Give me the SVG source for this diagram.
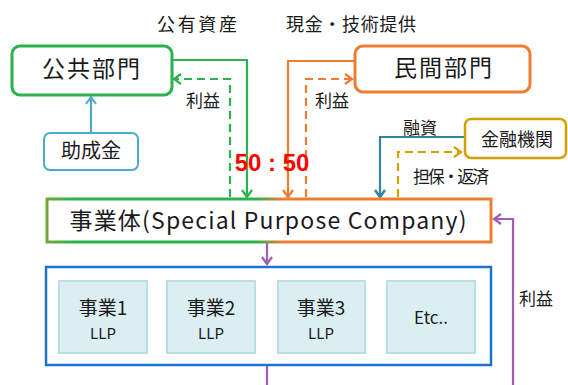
<svg xmlns="http://www.w3.org/2000/svg" width="568" height="385" viewBox="0 0 568 385">
<defs>
<style>
text{font-family:"Noto Sans CJK JP","Noto Sans",sans-serif;fill:#1a1a1a;text-anchor:middle}
.box{fill:#fff}
.ln{fill:none;stroke-width:2.2}
.dash{stroke-dasharray:8 5}
.inner{fill:#DBEEF2;stroke:#B9DEE6;stroke-width:2}
.lbl{font-size:17px}
</style>
<linearGradient id="spcg" x1="46" y1="0" x2="492" y2="0" gradientUnits="userSpaceOnUse">
<stop offset="0" stop-color="#74A838"/>
<stop offset="0.06" stop-color="#2BB14E"/>
<stop offset="0.47" stop-color="#2BB14E"/>
<stop offset="0.53" stop-color="#ED7D31"/>
<stop offset="1" stop-color="#ED7D31"/>
</linearGradient>
<marker id="aG" markerWidth="10" markerHeight="12" refX="8" refY="6" orient="auto" markerUnits="userSpaceOnUse"><path d="M1,1 L8,6 L1,11" fill="none" stroke="#2BB14E" stroke-width="2.2"/></marker>
<marker id="aO" markerWidth="10" markerHeight="12" refX="8" refY="6" orient="auto" markerUnits="userSpaceOnUse"><path d="M1,1 L8,6 L1,11" fill="none" stroke="#ED7D31" stroke-width="2.2"/></marker>
<marker id="aT" markerWidth="10" markerHeight="12" refX="8" refY="6" orient="auto" markerUnits="userSpaceOnUse"><path d="M1,1 L8,6 L1,11" fill="none" stroke="#31859C" stroke-width="2.6"/></marker>
<marker id="aY" markerWidth="10" markerHeight="12" refX="8" refY="6" orient="auto" markerUnits="userSpaceOnUse"><path d="M1,1 L8,6 L1,11" fill="none" stroke="#D4A100" stroke-width="2.2"/></marker>
<marker id="aB" markerWidth="10" markerHeight="12" refX="8" refY="6" orient="auto" markerUnits="userSpaceOnUse"><path d="M1,1 L8,6 L1,11" fill="none" stroke="#4BACC6" stroke-width="2"/></marker>
<marker id="aP" markerWidth="10" markerHeight="12" refX="8" refY="6" orient="auto" markerUnits="userSpaceOnUse"><path d="M1,1 L8,6 L1,11" fill="none" stroke="#A05DB4" stroke-width="2.2"/></marker>
</defs>

<g id="connectors">
<path class="ln" stroke="#2BB14E" d="M172,60 H247 V197" marker-end="url(#aG)"/>
<path class="ln dash" stroke="#2BB14E" d="M230,197 V79 H174" marker-end="url(#aG)"/>
<path class="ln" stroke="#ED7D31" d="M354,61 H288 V197" marker-end="url(#aO)"/>
<path class="ln dash" stroke="#ED7D31" d="M306,197 V79 H352" marker-end="url(#aO)"/>
<path class="ln" stroke="#31859C" d="M464,137 H380 V197" marker-end="url(#aT)"/>
<path class="ln dash" stroke="#D4A100" d="M398,197 V152 H461" marker-end="url(#aY)"/>
<path class="ln" stroke="#4BACC6" d="M91,133 V97" marker-end="url(#aB)"/>
<path class="ln" stroke="#A05DB4" d="M267,243 V264" marker-end="url(#aP)"/>
<path class="ln" stroke="#A05DB4" d="M267,366 V385"/>
<path class="ln" stroke="#A05DB4" d="M513,385 V219 H494" marker-end="url(#aP)"/>
<text class="lbl" x="203" y="107">利益</text>
<text class="lbl" x="332" y="107">利益</text>
<text class="lbl" x="420" y="134" font-size="16">融資</text>
<text class="lbl" x="451" y="183" font-size="16" textLength="76">担保・返済</text>
<text class="lbl" x="536" y="305">利益</text>
</g>

<g id="labels">
<text x="197" y="31" font-size="18" textLength="80">公有資産</text>
<text x="351" y="31" font-size="18" textLength="130">現金・技術提供</text>
<text x="272" y="171" font-size="24" font-weight="bold" style="fill:#FF0000;font-family:'Liberation Sans',Arial,sans-serif">50 : 50</text>
</g>

<g id="public">
<rect class="box" x="12" y="46" width="160" height="49" rx="8" stroke="#2BB14E" stroke-width="3"/>
<text x="91" y="77" font-size="23" textLength="98">公共部門</text>
</g>

<g id="private">
<rect class="box" x="355" y="46" width="175" height="46" rx="8" stroke="#ED7D31" stroke-width="3"/>
<text x="443" y="76" font-size="23" textLength="98">民間部門</text>
</g>

<g id="subsidy">
<rect class="box" x="44" y="133" width="94" height="37" rx="6" stroke="#4BACC6" stroke-width="2"/>
<text x="91" y="158" font-size="20">助成金</text>
</g>

<g id="bank">
<rect class="box" x="465" y="119" width="101" height="39" rx="6" stroke="#D4A100" stroke-width="2.5"/>
<text x="517" y="146" font-size="18">金融機関</text>
</g>

<g id="spc">
<rect class="box" x="47" y="199" width="444" height="43" stroke="url(#spcg)" stroke-width="3"/>
<text x="268" y="229" font-size="23" textLength="397">事業体(Special Purpose Company)</text>
</g>

<g id="projects">
<rect class="box" x="46" y="267" width="445" height="98" stroke="#1C74C8" stroke-width="2.5"/>
</g>
<g id="p1">
<rect class="inner" x="59" y="281" width="88" height="72"/>
<text x="103" y="315" font-size="19">事業1</text>
<text x="103" y="339" font-size="15">LLP</text>
</g>
<g id="p2">
<rect class="inner" x="167" y="281" width="88" height="72"/>
<text x="211" y="315" font-size="19">事業2</text>
<text x="211" y="339" font-size="15">LLP</text>
</g>
<g id="p3">
<rect class="inner" x="278" y="281" width="87" height="72"/>
<text x="321" y="315" font-size="19">事業3</text>
<text x="321" y="339" font-size="15">LLP</text>
</g>
<g id="p4">
<rect class="inner" x="387" y="281" width="88" height="72"/>
<text x="431" y="324" font-size="17">Etc..</text>
</g>
</svg>
